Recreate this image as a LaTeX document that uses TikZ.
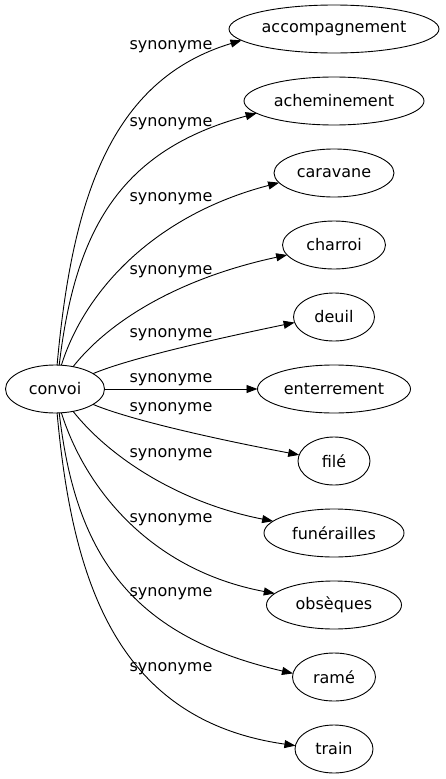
\documentclass[tikz,border=0pt]{standalone}
\usepackage{fontspec}
\setmainfont{DejaVu Sans}
\usetikzlibrary{arrows.meta, shapes.geometric}
\tikzset{
    word/.style={draw, ellipse, line width=0.9pt, inner sep=0pt, outer sep=0pt,
        minimum height=48pt},
    syn/.style={line width=0.9pt, -{Triangle[length=11pt, width=8pt]}},
    lbl/.style={anchor=base, inner sep=0pt}
}
\begin{document}
\begin{tikzpicture}[x=1pt, y=1pt, font=\fontsize{16}{19}\selectfont]
        \useasboundingbox (0, 0) rectangle (445, -779);

        \node[word, minimum width=99pt] (convoi) at (55, -389) {convoi};

        \node[word, minimum width=210pt] (acc) at (334, -29) {accompagnement};
        \node[word, minimum width=180pt] (achem) at (334, -101) {acheminement};
        \node[word, minimum width=120pt] (carav) at (334, -173) {caravane};
        \node[word, minimum width=103pt] (charroi) at (334, -245) {charroi};
        \node[word, minimum width=81pt] (deuil) at (334, -317) {deuil};
        \node[word, minimum width=153pt] (enterr) at (334, -389) {enterrement};
        \node[word, minimum width=72pt] (file) at (334, -461) {filé};
        \node[word, minimum width=140pt] (funer) at (334, -533) {funérailles};
        \node[word, minimum width=135pt] (obseq) at (334, -605) {obsèques};
        \node[word, minimum width=83pt] (rame) at (334, -677) {ramé};
        \node[word, minimum width=78pt] (train) at (334, -749) {train};

        \draw[syn] (convoi.85) .. controls (72, -200) and (110, -80) .. (acc.187);
        \draw[syn] (convoi.80) .. controls (75, -230) and (120, -150) .. (achem.189);
        \draw[syn] (convoi.75) .. controls (85, -290) and (155, -215) .. (carav.190);
        \draw[syn] (convoi.51) .. controls (110, -320) and (180, -278) .. (charroi.192);
        \draw[syn] (convoi.22) .. controls (130, -358) and (220, -338) .. (deuil.188);
        \draw[syn] (convoi) -- (enterr);
        \draw[syn] (convoi.-22) .. controls (130, -420) and (220, -440) .. (file.170);
        \draw[syn] (convoi.-51) .. controls (110, -458) and (180, -503) .. (funer.169);
        \draw[syn] (convoi.-75) .. controls (85, -488) and (150, -570) .. (obseq.169);
        \draw[syn] (convoi.-80) .. controls (75, -548) and (125, -635) .. (rame.175);
        \draw[syn] (convoi.-85) .. controls (72, -578) and (115, -720) .. (train.175);

        \node[lbl] (l1) at (171, -49) {synonyme};
        \node[lbl] (l2) at (171, -126) {synonyme};
        \node[lbl] (l3) at (171, -201) {synonyme};
        \node[lbl] (l4) at (171, -274) {synonyme};
        \node[lbl] (l5) at (171, -337) {synonyme};
        \node[lbl] (l6) at (171, -382) {synonyme};
        \node[lbl] (l7) at (171, -411) {synonyme};
        \node[lbl] (l8) at (171, -457) {synonyme};
        \node[lbl] (l9) at (171, -522) {synonyme};
        \node[lbl] (l10) at (171, -596) {synonyme};
        \node[lbl] (l11) at (171, -671) {synonyme};

    \end{tikzpicture}
\end{document}
